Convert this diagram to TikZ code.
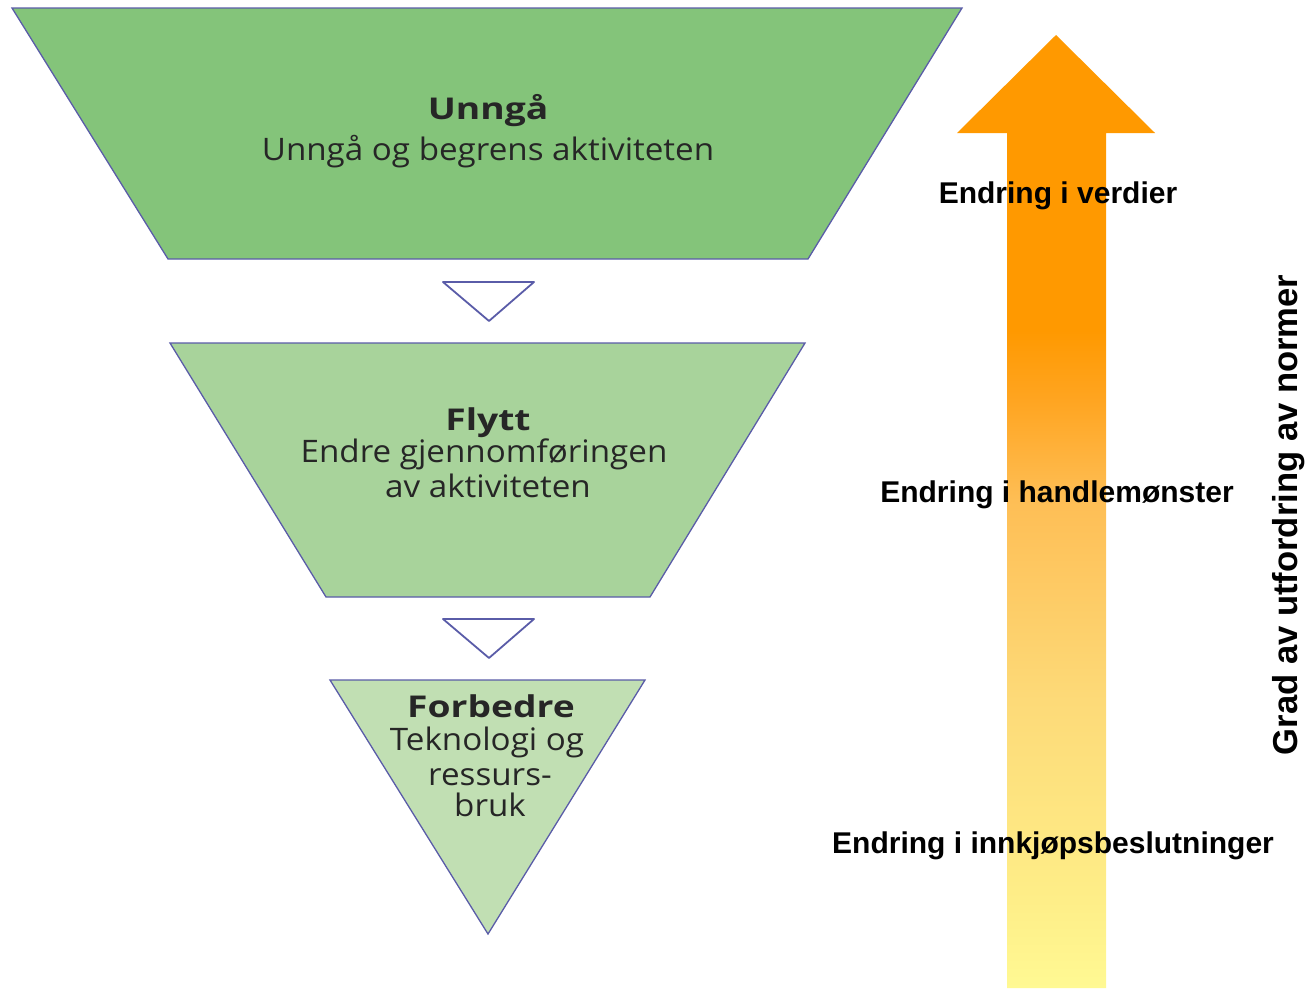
\documentclass[tikz,border=0pt]{standalone}
\usepackage{fontspec}
\setmainfont{Open Sans}
\newfontfamily\arialfont{Liberation Sans}
\definecolor{gA}{HTML}{84C47A}
\definecolor{gB}{HTML}{A8D39B}
\definecolor{gC}{HTML}{C1DFB3}
\definecolor{edge}{HTML}{5A5CA8}
\definecolor{txt}{HTML}{262626}
\definecolor{ylw}{HTML}{FFF993}
\definecolor{yB}{HTML}{FEEE88}
\definecolor{yC}{HTML}{FDDA78}
\definecolor{yD}{HTML}{FEBE55}
\definecolor{yE}{HTML}{FFA521}
\definecolor{org}{HTML}{FF9900}
\pgfdeclareverticalshading{arrowshade}{100bp}{color(0bp)=(ylw); color(25bp)=(ylw); color(29.6bp)=(yB); color(40.1bp)=(yC); color(50.6bp)=(yD); color(55.8bp)=(yE); color(59.5bp)=(org); color(100bp)=(org)}
\newcommand{\widettl}[1]{\scalebox{1.24}[1]{#1}}
\newcommand{\widesub}[1]{\scalebox{1.07}[1]{#1}}
\tikzset{
  funnel/.style={draw=edge, line width=1.3pt, line join=miter},
  pointer/.style={draw=edge, fill=white, line width=1.8pt, line join=round},
  ttl/.style={anchor=base, text=txt, font=\fontsize{30}{36}\selectfont\bfseries, inner sep=0pt},
  sub/.style={anchor=base, text=txt, font=\fontsize{31}{36}\selectfont, inner sep=0pt},
  lvl/.style={anchor=base, text=black, font=\arialfont\fontsize{30}{36}\selectfont\bfseries, inner sep=0pt},
}
\begin{document}
\begin{tikzpicture}[x=1pt,y=-1pt]
\useasboundingbox (0,0) rectangle (1306,988);
% funnel levels
\path[funnel, fill=gA] (12,8) -- (962,8) -- (808,259) -- (168,259) -- cycle;
\path[pointer] (443,282) -- (534,282) -- (489,321) -- cycle;
\path[funnel, fill=gB] (170,343) -- (805,343) -- (650,597) -- (326,597) -- cycle;
\path[pointer] (443,619) -- (534,619) -- (489,658) -- cycle;
\path[funnel, fill=gC] (330,680) -- (645,680) -- (488,934) -- cycle;
% funnel texts
\node[ttl] (t1) at (488,119) {\widettl{Unngå}};
\node[sub] (s1) at (488,160) {\widesub{Unngå og begrens aktiviteten}};
\node[ttl] (t2) at (488,430) {\widettl{Flytt}};
\node[sub] (s2a) at (484,462) {\widesub{Endre gjennomføringen}};
\node[sub] (s2b) at (488,497) {\widesub{av aktiviteten}};
\node[ttl] (t3) at (491,717) {\widettl{Forbedre}};
\node[sub] (s3a) at (487,750) {\widesub{Teknologi og}};
\node[sub] (s3b) at (490,785) {\widesub{ressurs-}};
\node[sub] (s3c) at (490,816) {\widesub{bruk}};
% gradient arrow
\path[shading=arrowshade] (1056,35) -- (1155,133) -- (1106,133) -- (1106,988) -- (1007,988) -- (1007,133) -- (957,133) -- cycle;
% level labels
\node[lvl] (l1) at (1058,203) {Endring i verdier};
\node[lvl] (l2) at (1057,502) {Endring i handlemønster};
\node[lvl] (l3) at (1053,853) {Endring i innkjøpsbeslutninger};
% axis label
\node[anchor=base, rotate=90, inner sep=0pt, font=\arialfont\fontsize{34.6}{40}\selectfont\bfseries] (ax) at (1297,515) {Grad av utfordring av normer};
\end{tikzpicture}
\end{document}
